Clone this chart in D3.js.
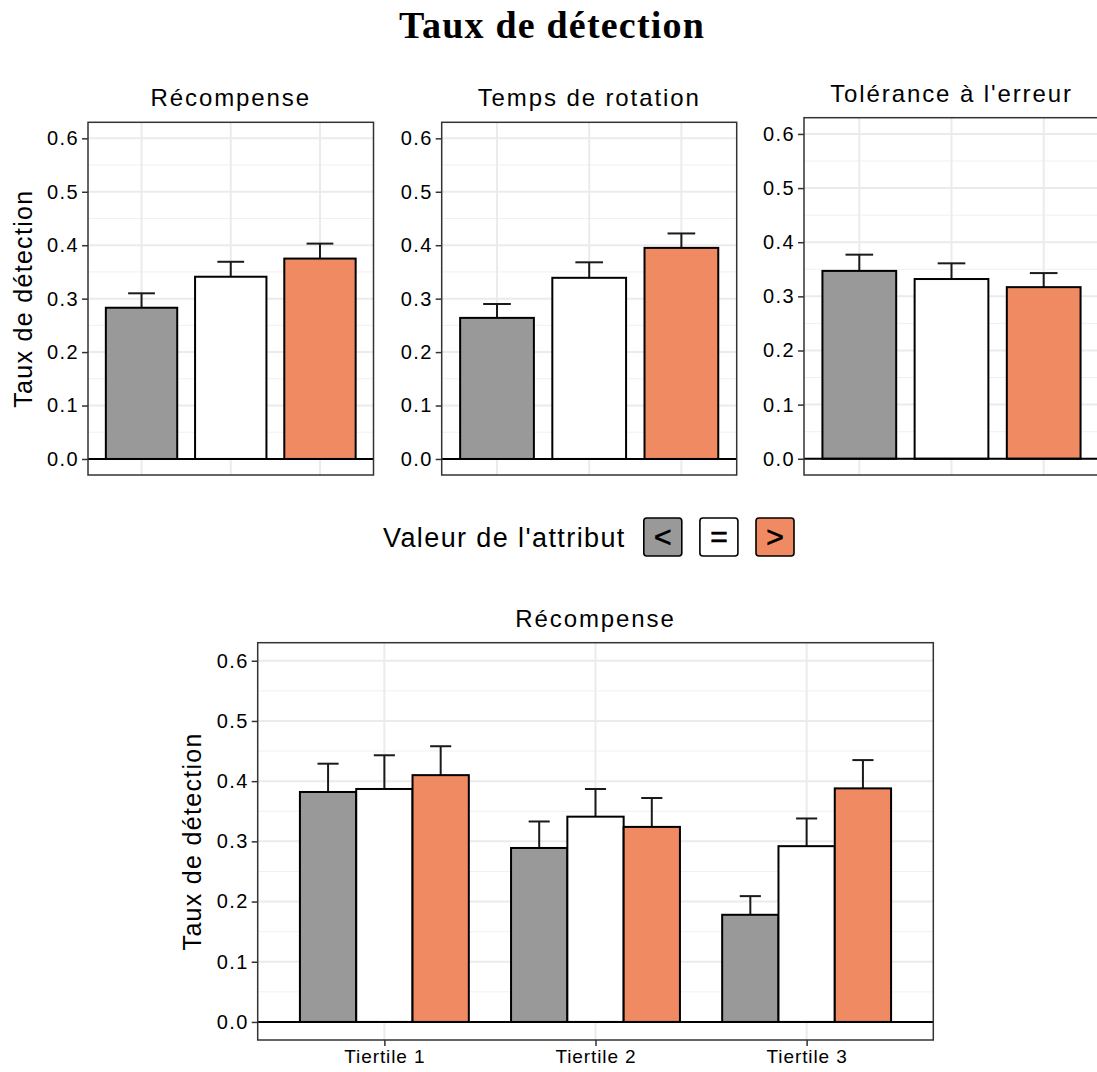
<!DOCTYPE html>
<html>
<head>
<meta charset="utf-8">
<script src="https://cdn.jsdelivr.net/npm/d3@7"></script>
<style>
  html, body { margin: 0; padding: 0; background: #fff; }
  svg { display: block; }
  text { font-family: "Liberation Sans", Arial, sans-serif; fill: #000; }
</style>
</head>
<body>
<svg id="chart" width="1097" height="1072"></svg>
<script>
// ---------------- data ----------------
const chartTitle = "Taux de détection";
const yAxisTitle = "Taux de détection";
const legendTitle = "Valeur de l'attribut";
const attrLevels = ["<", "=", ">"];
const attrColors = ["#999999", "#ffffff", "#ef8a62"];

const topFacets = ["Récompense", "Temps de rotation", "Tolérance à l'erreur"];
const topMeans = [
  [0.283, 0.341, 0.375],
  [0.264, 0.339, 0.395],
  [0.347, 0.332, 0.317]
];
const topUpper = [
  [0.310, 0.369, 0.403],
  [0.290, 0.368, 0.422],
  [0.377, 0.361, 0.343]
];

const bottomFacet = "Récompense";
const tertiles = ["Tiertile 1", "Tiertile 2", "Tiertile 3"];
const bottomMeans = [
  [0.382, 0.387, 0.410],
  [0.289, 0.341, 0.324],
  [0.178, 0.292, 0.388]
];
const bottomUpper = [
  [0.429, 0.443, 0.458],
  [0.333, 0.387, 0.372],
  [0.209, 0.338, 0.435]
];

const yTicks = [0.0, 0.1, 0.2, 0.3, 0.4, 0.5, 0.6];
const yTickLabels = ["0.0", "0.1", "0.2", "0.3", "0.4", "0.5", "0.6"];
const yMinorTicks = [0.05, 0.15, 0.25, 0.35, 0.45, 0.55];
const yDomain = [-0.03, 0.63];

// ---------------- drawing ----------------
const svg = d3.select("#chart");

svg.append("text")
  .attr("x", 552).attr("y", 38)
  .attr("text-anchor", "middle")
  .style("font-family", "'Liberation Serif', 'DejaVu Serif', serif")
  .style("font-weight", "bold")
  .style("font-size", "38px")
  .style("letter-spacing", "1.2px")
  .text(chartTitle);

function drawPanel(opts) {
  const { x0, x1, y0, y1, title, cats, means, upper, dodge, capFrac, showXLabels, showYTitle, yTitleX } = opts;
  const g = svg.append("g");
  const y = d3.scaleLinear().domain(yDomain).range([y1, y0]);
  const x = d3.scalePoint().domain(cats).range([x0, x1]).padding(0.6);
  const step = x.step();

  g.append("rect").attr("x", x0).attr("y", y0).attr("width", x1 - x0).attr("height", y1 - y0).attr("fill", "#fff");

  g.selectAll(".ymin").data(yMinorTicks).enter().append("line")
    .attr("x1", x0).attr("x2", x1)
    .attr("y1", d => y(d)).attr("y2", d => y(d))
    .attr("stroke", "#f0f0f0").attr("stroke-width", 1);
  g.selectAll(".ymaj").data(yTicks).enter().append("line")
    .attr("x1", x0).attr("x2", x1)
    .attr("y1", d => y(d)).attr("y2", d => y(d))
    .attr("stroke", "#ebebeb").attr("stroke-width", 2);
  g.selectAll(".xmaj").data(cats).enter().append("line")
    .attr("x1", d => x(d)).attr("x2", d => x(d))
    .attr("y1", y0).attr("y2", y1)
    .attr("stroke", "#ebebeb").attr("stroke-width", 2);

  const groupW = 0.8 * step;
  const capW = capFrac * step;
  function bar(cx, w, v, up, fill) {
    g.append("line").attr("x1", cx).attr("x2", cx).attr("y1", y(v)).attr("y2", y(up))
      .attr("stroke", "#1a1a1a").attr("stroke-width", 2);
    g.append("line").attr("x1", cx - capW / 2).attr("x2", cx + capW / 2).attr("y1", y(up)).attr("y2", y(up))
      .attr("stroke", "#1a1a1a").attr("stroke-width", 2);
    g.append("rect").attr("x", cx - w / 2).attr("y", y(v)).attr("width", w).attr("height", y(0) - y(v))
      .attr("fill", fill).attr("stroke", "#000").attr("stroke-width", 2);
  }
  cats.forEach((c, i) => {
    if (dodge) {
      const bw = groupW / attrLevels.length;
      means[i].forEach((v, k) => {
        bar(x(c) - groupW / 2 + bw * (k + 0.5), bw, v, upper[i][k], attrColors[k]);
      });
    } else {
      bar(x(c), groupW, means[i], upper[i], attrColors[i]);
    }
  });

  g.append("line").attr("x1", x0).attr("x2", x1).attr("y1", y(0)).attr("y2", y(0))
    .attr("stroke", "#000").attr("stroke-width", 2);

  g.append("rect").attr("x", x0).attr("y", y0).attr("width", x1 - x0).attr("height", y1 - y0)
    .attr("fill", "none").attr("stroke", "#333").attr("stroke-width", 1.5);

  const yAxis = d3.axisLeft(y).tickValues(yTicks).tickFormat((d, i) => yTickLabels[i]).tickSize(6).tickPadding(3);
  const ya = g.append("g").attr("transform", `translate(${x0},0)`).call(yAxis);
  ya.select(".domain").remove();
  ya.selectAll(".tick line").attr("stroke", "#333").attr("stroke-width", 1.5);
  ya.selectAll(".tick text").attr("font-family", "'Liberation Sans', Arial, sans-serif")
    .attr("font-size", 20).style("letter-spacing", "1.4px").attr("fill", "#1a1a1a");

  if (showXLabels) {
    const xAxis = d3.axisBottom(x).tickSize(6).tickPadding(4);
    const xa = g.append("g").attr("transform", `translate(0,${y1})`).call(xAxis);
    xa.select(".domain").remove();
    xa.selectAll(".tick line").attr("stroke", "#333").attr("stroke-width", 1.5);
    xa.selectAll(".tick text").attr("font-family", "'Liberation Sans', Arial, sans-serif")
      .attr("font-size", 19).style("letter-spacing", "0.9px").attr("fill", "#1a1a1a");
  }

  svg.append("text").attr("x", (x0 + x1) / 2).attr("y", y0 - 16)
    .attr("text-anchor", "middle")
    .style("font-size", "24px").style("letter-spacing", "1.9px")
    .text(title);

  if (showYTitle) {
    svg.append("text")
      .attr("transform", `translate(${yTitleX},${(y0 + y1) / 2}) rotate(-90)`)
      .attr("text-anchor", "middle")
      .style("font-size", "25px").style("letter-spacing", "1.3px")
      .text(yAxisTitle);
  }
}

const topBoxes = [
  { x0: 88, x1: 373.5, y0: 122.3, y1: 475 },
  { x0: 441.7, x1: 736.7, y0: 122.3, y1: 475 },
  { x0: 804, x1: 1099, y0: 117.7, y1: 475 }
];
topFacets.forEach((f, i) => {
  drawPanel(Object.assign({}, topBoxes[i], {
    title: f, cats: attrLevels, means: topMeans[i], upper: topUpper[i],
    dodge: false, capFrac: 0.3, showXLabels: false, showYTitle: i === 0, yTitleX: 32
  }));
});

drawPanel({
  x0: 257.7, x1: 933.3, y0: 642.7, y1: 1040,
  title: bottomFacet, cats: tertiles, means: bottomMeans, upper: bottomUpper,
  dodge: true, capFrac: 0.1, showXLabels: true, showYTitle: true, yTitleX: 201
});

// legend
const lg = svg.append("g");
lg.append("text").attr("x", 383).attr("y", 547)
  .style("font-size", "27px").style("letter-spacing", "1.4px")
  .text(legendTitle);
const keyX = d3.scalePoint().domain(attrLevels).range([662.8, 775]);
attrLevels.forEach((a, k) => {
  const cx = keyX(a);
  lg.append("rect").attr("x", cx - 19).attr("y", 518).attr("width", 38).attr("height", 38)
    .attr("rx", 3).attr("fill", attrColors[k]).attr("stroke", "#000").attr("stroke-width", 1.6);
  lg.append("text").attr("x", cx).attr("y", 547).attr("text-anchor", "middle")
    .style("font-size", "30px").attr("stroke", "#000").attr("stroke-width", 0.7)
    .text(a);
});
</script>
</body>
</html>
